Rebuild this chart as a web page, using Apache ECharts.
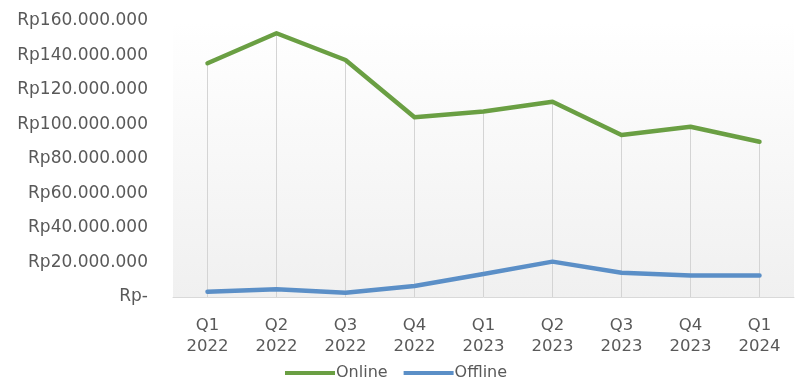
<!DOCTYPE html>
<html>
<head>
<meta charset="utf-8">
<script src="https://cdn.jsdelivr.net/npm/echarts@6/dist/echarts.min.js"></script>
<style>
  html, body { margin: 0; padding: 0; background: #fff; }
  #chart { width: 795px; height: 381px; }
</style>
</head>
<body>
<div id="chart"></div>
<script>
const categories = ['Q1\n2022', 'Q2\n2022', 'Q3\n2022', 'Q4\n2022', 'Q1\n2023', 'Q2\n2023', 'Q3\n2023', 'Q4\n2023', 'Q1\n2024']
const online = [135500000, 152900000, 137400000, 104200000, 107500000, 113200000, 93900000, 98700000, 90000000]
const offline = [3100000, 4500000, 2500000, 6400000, 13300000, 20500000, 14100000, 12400000, 12400000]
const yTicks = [0, 20000000, 40000000, 60000000, 80000000, 100000000, 120000000, 140000000, 160000000]

const font = 'DejaVu Sans'

function rupiah(v) {
  if (v === 0) return 'Rp-'
  return 'Rp' + String(v).replace(/\B(?=(\d{3})+(?!\d))/g, '.')
}

const chart = echarts.init(document.getElementById('chart'))

chart.setOption({
  animation: false,
  legend: {
    data: ['Online', 'Offline'],
    left: 280,
    top: 360,
    itemWidth: 50,
    itemHeight: 4,
    itemGap: 16,
    icon: 'rect',
    textStyle: { color: '#595959', fontFamily: font, fontSize: 16, padding: [0, 0, 0, -4] }
  },
  grid: {
    left: 173,
    right: 1,
    top: 21,
    bottom: 84,
    show: true,
    borderWidth: 0,
    backgroundColor: new echarts.graphic.LinearGradient(0, 0, 0, 1, [
      { offset: 0, color: '#ffffff' },
      { offset: 1, color: '#f0f0f0' }
    ])
  },
  xAxis: {
    type: 'category',
    data: categories,
    boundaryGap: true,
    axisLine: { lineStyle: { color: '#d9d9d9', width: 1 } },
    axisTick: { show: false },
    axisLabel: { color: '#595959', fontFamily: font, fontSize: 16.5, lineHeight: 21, margin: 18 }
  },
  yAxis: {
    type: 'value',
    min: 0,
    max: yTicks[yTicks.length - 1],
    interval: yTicks[1] - yTicks[0],
    axisLine: { show: false },
    axisTick: { show: false },
    splitLine: { show: false },
    axisLabel: { color: '#595959', fontFamily: font, fontSize: 17, margin: 25, formatter: rupiah }
  },
  series: [
    {
      name: 'drop',
      type: 'bar',
      data: online,
      barWidth: 1,
      itemStyle: { color: '#d4d4d4' },
      silent: true,
      z: 1
    },
    {
      name: 'Online',
      type: 'line',
      data: online,
      symbol: 'none',
      lineStyle: { color: '#6a9f43', width: 4.5, cap: 'round', join: 'round' },
      itemStyle: { color: '#6a9f43' },
      z: 3
    },
    {
      name: 'Offline',
      type: 'line',
      data: offline,
      symbol: 'none',
      lineStyle: { color: '#5b8fc7', width: 4.5, cap: 'round', join: 'round' },
      itemStyle: { color: '#5b8fc7' },
      z: 3
    }
  ]
})
</script>
</body>
</html>
